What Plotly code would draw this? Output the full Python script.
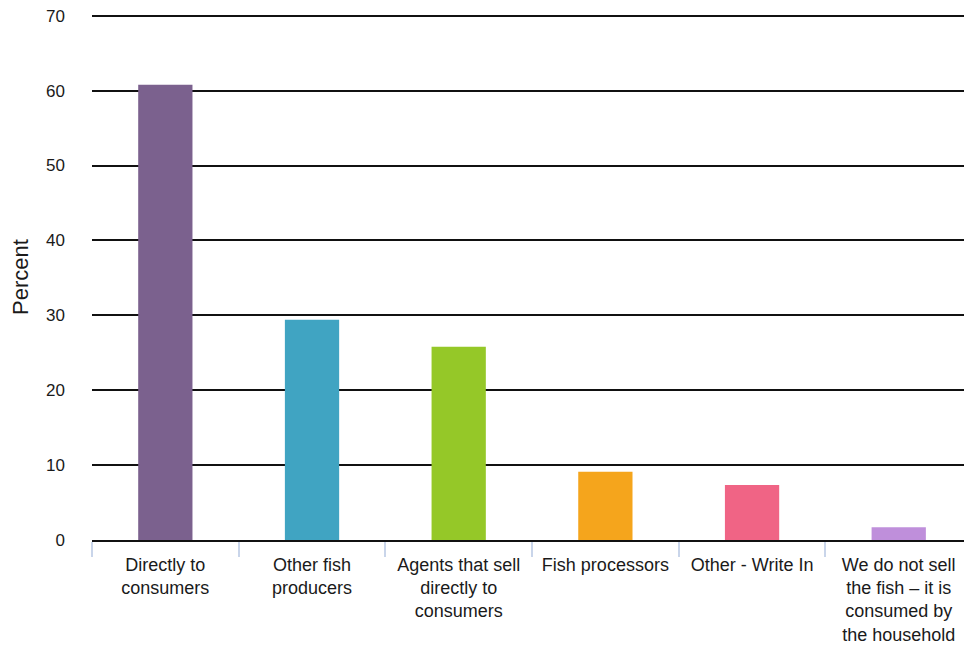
import plotly.graph_objects as go

categories = [
    "Directly to<br>consumers",
    "Other fish<br>producers",
    "Agents that sell<br>directly to<br>consumers",
    "Fish processors",
    "Other - Write In",
    "We do not sell<br>the fish \u2013 it is<br>consumed by<br>the household",
]
percent = [60.8, 29.4, 25.8, 9.1, 7.35, 1.7]
bar_colors = ["#7b618e", "#40a4c2", "#95c828", "#f5a51c", "#f06485", "#bf8fdb"]
y_ticks = [0, 10, 20, 30, 40, 50, 60, 70]

fig = go.Figure()

fig.add_trace(go.Bar(
    x=categories,
    y=percent,
    marker=dict(color=bar_colors, line=dict(width=0)),
    hovertemplate="%{y:.1f}%<extra></extra>",
))

# y title as an annotation so it can sit closer to the left edge
fig.add_annotation(
    text="Percent", textangle=-90, showarrow=False,
    xref="paper", yref="paper", x=-72 / 872, y=263 / 528,
    xanchor="center", yanchor="middle",
    font=dict(size=22),
)

fig.update_layout(
    width=964,
    height=648,
    margin=dict(l=92, r=0, t=12, b=108),
    plot_bgcolor="white",
    paper_bgcolor="white",
    showlegend=False,
    bargap=0.63,
    font=dict(family="Liberation Sans, Arial, sans-serif", color="#1a1a1a"),
    xaxis=dict(
        type="category",
        range=[-0.5, 5.445],
        tickson="boundaries",
        ticks="outside",
        ticklen=15,
        tickwidth=1.5,
        tickcolor="#c9d5ea",
        showline=True,
        linecolor="#111111",
        linewidth=2,
        showgrid=False,
        tickfont=dict(size=18),
        tickangle=0,
        ticklabelstandoff=7,
        ticklabeloverflow="allow",
        automargin=False,
    ),
    yaxis=dict(
        range=[0, 70.5],
        tickvals=y_ticks,
        showgrid=True,
        gridcolor="#111111",
        gridwidth=1.5,
        zeroline=False,
        showline=False,
        ticks="",
        ticklabelstandoff=26,
        ticklabeloverflow="allow",
        tickfont=dict(size=17),
        automargin=False,
    ),
)

# drop the default 8px body margin so the figure fills the window
fig.write_html(
    "out.html",
    config={"displayModeBar": False},
    post_script="document.body.style.margin='0';",
)
